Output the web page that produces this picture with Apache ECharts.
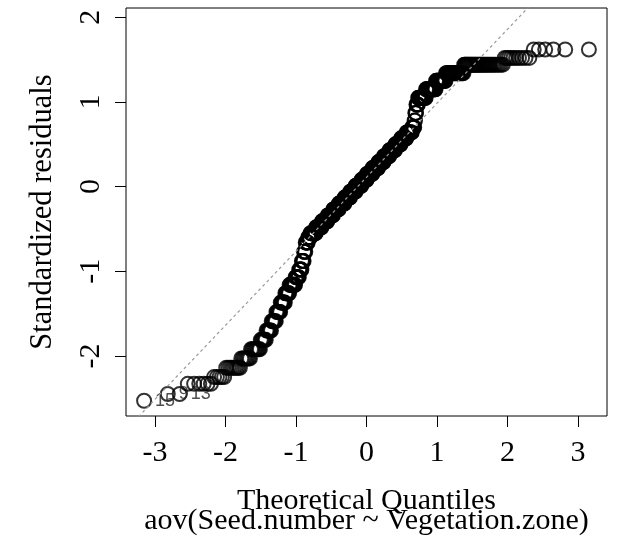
<!DOCTYPE html>
<html>
<head>
<meta charset="utf-8">
<script src="https://cdn.jsdelivr.net/npm/echarts@6/dist/echarts.min.js"></script>
<style>
html,body{margin:0;padding:0;background:#fff;}
#chart{width:625px;height:542px;}
</style>
</head>
<body>
<div id="chart"></div>
<script>
// Sorted standardized residuals, run-length encoded (value, how many points share it)
const residLevels = [-2.53,-2.45,-2.33,-2.25,-2.14,-2.03,-1.92,-1.81,-1.70,-1.59,-1.48,-1.37,-1.26,-1.16,-1.07,-0.98,-0.88,-0.77,-0.66,-0.60,-0.55,-0.48,-0.41,-0.34,-0.27,-0.20,-0.13,-0.06,0.01,0.08,0.15,0.22,0.29,0.36,0.43,0.50,0.57,0.64,0.70,0.78,0.87,0.97,1.05,1.15,1.25,1.34,1.44,1.52,1.62];
const residCounts = [1,2,6,5,9,8,10,7,7,7,7,8,8,12,8,6,5,4,6,6,15,16,17,17,18,19,19,19,20,19,20,20,19,19,19,18,17,16,7,2,3,5,20,23,20,29,36,10,6];
// observation ids of the three most extreme residuals (ranks 1, 2, 3)
const extremeIds = ['15','9','13'];
const xTickValues = [-3,-2,-1,0,1,2,3];
const yTickValues = [-2,-1,0,1,2];
const xTitle = 'Theoretical Quantiles';
const subTitle = 'aov(Seed.number ~ Vegetation.zone)';
const yTitle = 'Standardized residuals';

function qnorm(p){
  const a=[-3.969683028665376e+01,2.209460984245205e+02,-2.759285104469687e+02,1.383577518672690e+02,-3.066479806614716e+01,2.506628277459239e+00];
  const b=[-5.447609879822406e+01,1.615858368580409e+02,-1.556989798598866e+02,6.680131188771972e+01,-1.328068155288572e+01];
  const c=[-7.784894002430293e-03,-3.223964580411365e-01,-2.400758277161838e+00,-2.549732539343734e+00,4.374664141464968e+00,2.938163982698783e+00];
  const d=[7.784695709041462e-03,3.224671290700398e-01,2.445134137142996e+00,3.754408661907416e+00];
  const pl=0.02425, ph=1-pl;
  if(p<pl){const q=Math.sqrt(-2*Math.log(p));return (((((c[0]*q+c[1])*q+c[2])*q+c[3])*q+c[4])*q+c[5])/((((d[0]*q+d[1])*q+d[2])*q+d[3])*q+1);}
  if(p>ph){const q=Math.sqrt(-2*Math.log(1-p));return -(((((c[0]*q+c[1])*q+c[2])*q+c[3])*q+c[4])*q+c[5])/((((d[0]*q+d[1])*q+d[2])*q+d[3])*q+1);}
  const q=p-0.5,r=q*q;
  return (((((a[0]*r+a[1])*r+a[2])*r+a[3])*r+a[4])*r+a[5])*q/(((((b[0]*r+b[1])*r+b[2])*r+b[3])*r+b[4])*r+1);
}
function quantile7(s,p){const h=(s.length-1)*p,lo=Math.floor(h);return lo+1<s.length? s[lo]+(h-lo)*(s[lo+1]-s[lo]) : s[lo];}

const resid=[];
residLevels.forEach((v,i)=>{for(let k=0;k<residCounts[i];k++)resid.push(v);});
const n=resid.length;
const pts=resid.map((v,i)=>[qnorm((i+0.5)/n),v]);
const labelPts=extremeIds.map((id,i)=>({value:pts[i],name:id}));

// qqline through the quartiles (as R's qqline does)
const y1=quantile7(resid,0.25), y3=quantile7(resid,0.75);
const x1=qnorm(0.25), x3=qnorm(0.75);
const slope=(y3-y1)/(x3-x1), inter=y1-slope*x1;
const XMIN=-3.41, XMAX=3.41, YMIN=-2.71, YMAX=2.11;
const linePts=[[XMIN,inter+slope*XMIN],[XMAX,inter+slope*XMAX]];

const FONT='"Liberation Serif","Times New Roman",serif';
const chart=echarts.init(document.getElementById('chart'),null,{renderer:'canvas'});
chart.setOption({
  animation:false,
  backgroundColor:'#fff',
  grid:{left:126,right:18,top:8,bottom:126,show:true,borderColor:'#000',borderWidth:1,backgroundColor:'transparent'},
  xAxis:{type:'value',min:XMIN,max:XMAX,
    axisLine:{show:false,onZero:false},splitLine:{show:false},
    axisTick:{show:true,customValues:xTickValues,length:11,lineStyle:{color:'#000',width:1}},
    axisLabel:{customValues:xTickValues,fontFamily:FONT,fontSize:30,color:'#000',margin:22},
    name:xTitle,nameLocation:'middle',nameGap:70,
    nameTextStyle:{fontFamily:FONT,fontSize:30,color:'#000'}},
  yAxis:{type:'value',min:YMIN,max:YMAX,
    axisLine:{show:false,onZero:false},splitLine:{show:false},
    axisTick:{show:true,customValues:yTickValues,length:11,lineStyle:{color:'#000',width:1}},
    axisLabel:{customValues:yTickValues,rotate:90,fontFamily:FONT,fontSize:30,color:'#000',margin:20},
    name:yTitle,nameLocation:'middle',nameGap:68,
    nameTextStyle:{fontFamily:FONT,fontSize:30.5,color:'#000'}},
  graphic:[{type:'text',x:366.5,y:521,style:{text:subTitle,font:'30px '+FONT,fill:'#000',align:'center',verticalAlign:'middle'}}],
  series:[
    {type:'scatter',data:pts,symbol:'circle',symbolSize:14,silent:true,
     itemStyle:{color:'rgba(0,0,0,0)',borderColor:'#000',borderWidth:2},z:2},
    {type:'scatter',data:labelPts,symbol:'circle',symbolSize:14,silent:true,
     itemStyle:{color:'rgba(0,0,0,0)',borderColor:'rgba(0,0,0,0)',borderWidth:0},
     label:{show:true,position:'right',distance:4,formatter:p=>p.name,fontFamily:'"Liberation Sans",Arial,sans-serif',fontSize:18,color:'#222'},z:3},
    {type:'line',data:linePts,symbol:'none',silent:true,clip:true,
     lineStyle:{color:'#9a9a9a',width:1.2,type:[3,3]},z:4}
  ]
});
</script>
</body>
</html>
